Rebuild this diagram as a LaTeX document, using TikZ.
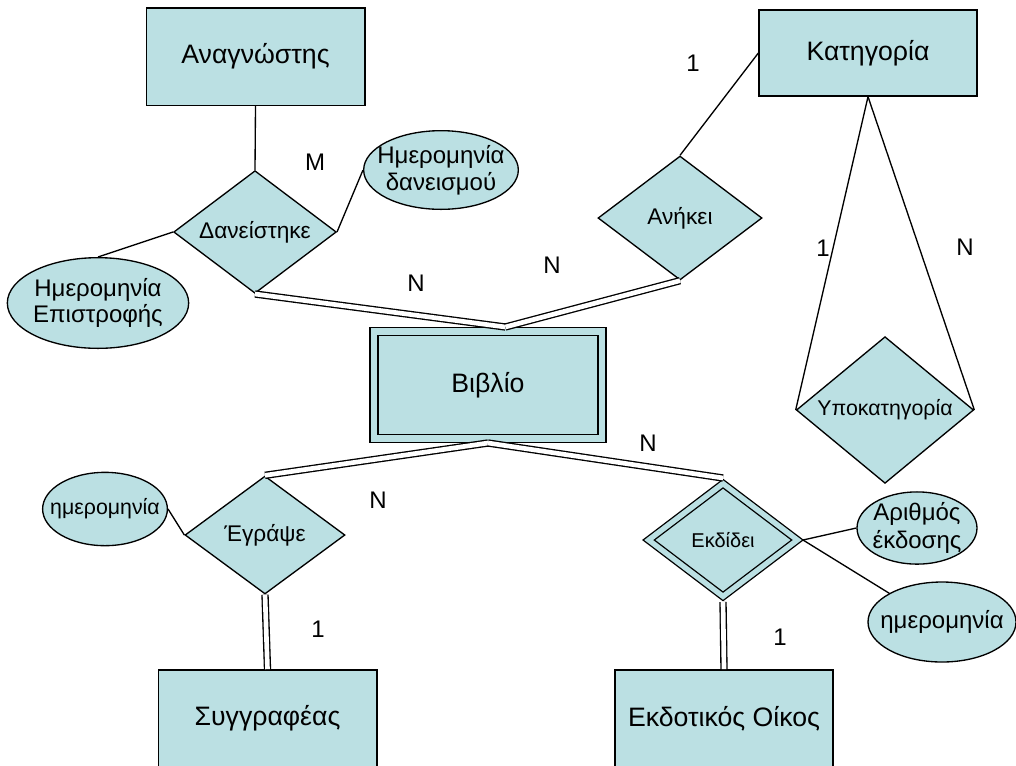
\documentclass[tikz,border=0pt]{standalone}
\usepackage{fontspec}
\setmainfont{Liberation Sans}
\usetikzlibrary{shapes.geometric}
\definecolor{erfill}{RGB}{187,224,227}

\begin{document}
\begin{tikzpicture}[x=0.75pt,y=-0.75pt,line width=1pt,
  entity/.style={rectangle, draw=black, fill=erfill, inner sep=0pt, font=\fontsize{20}{22}\selectfont},
  weak/.style={entity, double=erfill, double distance=5pt, outer sep=3.5pt},
  rel/.style={diamond, aspect=1.3, draw=black, fill=erfill, inner sep=0pt, font=\fontsize{17}{19}\selectfont},
  weakrel/.style={rel, double=erfill, double distance=4pt, outer sep=3pt},
  attr/.style={ellipse, draw=black, fill=erfill, inner xsep=-8pt, inner ysep=0pt, align=center, font=\fontsize{18}{20}\selectfont},
  card/.style={font=\fontsize{18}{21}\selectfont},
  total/.style={double, double distance=3.5pt}]
\useasboundingbox (0,0) rectangle (1016,765);
\clip (0,0) rectangle (1016,765);
\node [entity, minimum width=164pt, minimum height=73pt] (anag) at (255.5,56.5) {Αναγνώστης};
\node [rel, minimum width=122pt, minimum height=92pt] (dan) at (255,232) {Δανείστηκε};
\node [attr, minimum width=116pt, minimum height=59pt] (dat) at (441,170) {Ημερομηνία\\δανεισμού};
\node [attr, minimum width=136pt, minimum height=68pt] (ret) at (98,303) {Ημερομηνία\\Επιστροφής};
\node [entity, minimum width=163.5pt, minimum height=64.5pt] (kat) at (868,53) {Κατηγορία};
\node [rel, minimum width=123pt, minimum height=93pt] (anh) at (680,218) {Ανήκει};
\node [rel, font=\fontsize{16}{18}\selectfont, minimum width=133pt, minimum height=110pt] (ypo) at (885,410) {Υποκατηγορία};
\node [weak, minimum width=171pt, minimum height=80pt] (bib) at (488,385) {Βιβλίο};
\node [rel, minimum width=120pt, minimum height=88.5pt] (egr) at (265,535) {Έγράψε};
\node [attr, font=\fontsize{16}{18}\selectfont, minimum width=93pt, minimum height=55pt] (hm1) at (105,509) {ημερομηνία};
\node [entity, minimum width=164pt, minimum height=73pt] (syg) at (267.5,718.5) {Συγγραφέας};
\node [weakrel, font=\fontsize{15}{17}\selectfont, minimum width=114pt, minimum height=87pt] (ekd) at (723,540) {Εκδίδει};
\node [attr, font=\fontsize{18}{21}\selectfont, minimum width=90pt, minimum height=53pt] (ari) at (917,528) {Αριθμός\\έκδοσης};
\node [attr, minimum width=111pt, minimum height=60pt] (hm2) at (942,622) {ημερομηνία};
\node [entity, minimum width=163.5pt, minimum height=73pt] (oik) at (724,718.5) {Εκδοτικός Οίκος};
\node [card] (m1) at (315,162) {M};
\node [card] (n1) at (416,283) {N};
\node [card] (n2) at (552,265) {N};
\node [card] (c1) at (693,63) {1};
\node [card] (c2) at (823,248) {1};
\node [card] (n3) at (965,247) {N};
\node [card] (n4) at (378,500) {N};
\node [card] (n5) at (648,443) {N};
\node [card] (c3) at (318,629) {1};
\node [card] (c4) at (780,637) {1};
\draw (anag.south) to (dan.north);
\draw (dan.east) to (dat.west);
\draw (dan.west) to (ret.north);
\draw [total] (dan.south) to ([xshift=13pt]bib.north);
\draw [total] (anh.south) to ([xshift=13pt]bib.north);
\draw (kat.west) to (anh.north);
\draw (kat.south) to (ypo.west);
\draw (kat.south) to (ypo.east);
\draw [total] (bib.south) to (egr.north);
\draw [total] (bib.south) to (ekd.north);
\draw (hm1.east) to (egr.west);
\draw [total] (egr.south) to (syg.north);
\draw (ekd.east) to (ari.west);
\draw (ekd.east) to (hm2.north west);
\draw [total] (ekd.south) to (oik.north);
\end{tikzpicture}
\end{document}
